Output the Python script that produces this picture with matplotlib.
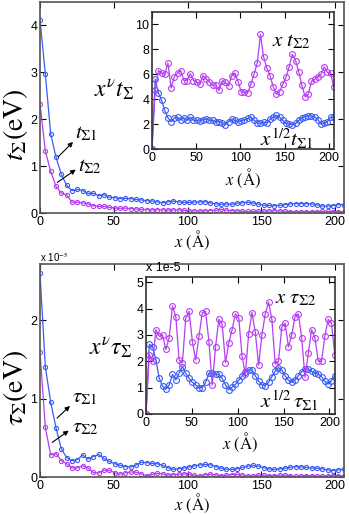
import numpy as np
import matplotlib
matplotlib.use("Agg")
import matplotlib.pyplot as plt

plt.rcParams["mathtext.fontset"] = "stix"
plt.rcParams["font.family"] = ["Liberation Sans", "DejaVu Sans"]

# sampling of the position x (Angstrom), 58 points
x_step = 3.61
x = x_step * np.arange(58)

# main panel (top): t_Sigma in eV
t1 = [4.12, 2.97, 1.69, 1.195, 0.823, 0.593, 0.477, 0.502, 0.479, 0.416,
      0.420, 0.368, 0.391, 0.339, 0.326, 0.308, 0.312, 0.309, 0.288, 0.280,
      0.261, 0.255, 0.238, 0.216, 0.238, 0.255, 0.239, 0.225, 0.226, 0.232,
      0.237, 0.243, 0.216, 0.194, 0.187, 0.193, 0.186, 0.209, 0.220, 0.229,
      0.214, 0.191, 0.168, 0.162, 0.156, 0.162, 0.180, 0.194, 0.199, 0.201,
      0.199, 0.193, 0.173, 0.146, 0.148, 0.157, 0.181, 0.179]
t2 = [2.33, 1.324, 0.887, 0.573, 0.423, 0.389, 0.230, 0.233, 0.215, 0.197,
      0.155, 0.141, 0.142, 0.119, 0.109, 0.098, 0.104, 0.093, 0.085, 0.076,
      0.073, 0.063, 0.070, 0.066, 0.059, 0.066, 0.066, 0.056, 0.046, 0.045,
      0.042, 0.047, 0.053, 0.059, 0.076, 0.060, 0.051, 0.045, 0.037, 0.032,
      0.032, 0.036, 0.039, 0.043, 0.049, 0.044, 0.038, 0.031, 0.025, 0.025,
      0.031, 0.031, 0.031, 0.032, 0.034, 0.031, 0.031, 0.025]

# inset (top): x^(1/2) t_S1 and x t_S2
xt1 = [0, 5.6, 4.5, 3.9, 3.1, 2.5, 2.2, 2.5, 2.55, 2.35,
       2.5, 2.3, 2.55, 2.3, 2.3, 2.25, 2.35, 2.4, 2.3, 2.3,
       2.2, 2.2, 2.1, 1.95, 2.2, 2.4, 2.3, 2.2, 2.25, 2.35,
       2.45, 2.55, 2.3, 2.1, 2.05, 2.15, 2.1, 2.4, 2.55, 2.7,
       2.55, 2.3, 2.05, 2.0, 1.95, 2.05, 2.3, 2.5, 2.6, 2.65,
       2.65, 2.6, 2.35, 2.0, 2.05, 2.2, 2.55, 2.55]
xt2 = [0, 4.7, 6.3, 6.1, 6.0, 6.9, 4.9, 5.8, 6.1, 6.3,
       5.5, 5.5, 6.05, 5.5, 5.4, 5.2, 5.9, 5.6, 5.4, 5.1,
       5.15, 4.7, 5.45, 5.35, 5.05, 5.9, 6.1, 5.4, 4.55, 4.6,
       4.5, 5.2, 6.0, 6.9, 9.2, 7.4, 6.5, 5.9, 5.0, 4.4,
       4.6, 5.2, 5.75, 6.6, 7.6, 7.1, 6.2, 5.1, 4.2, 4.4,
       5.45, 5.6, 5.8, 6.0, 6.6, 6.15, 6.1, 4.97]

# main panel (bottom): tau_Sigma in units of 1e-5 eV
tau1 = [2.6, 1.41, 0.957, 0.628, 0.358, 0.249, 0.206, 0.221, 0.281, 0.230,
        0.260, 0.288, 0.237, 0.199, 0.170, 0.151, 0.133, 0.129, 0.150, 0.189,
        0.184, 0.174, 0.170, 0.149, 0.119, 0.098, 0.106, 0.114, 0.128, 0.143,
        0.155, 0.160, 0.156, 0.134, 0.114, 0.099, 0.096, 0.105, 0.122, 0.138,
        0.148, 0.139, 0.119, 0.104, 0.096, 0.103, 0.113, 0.124, 0.132, 0.129,
        0.122, 0.115, 0.112, 0.104, 0.090, 0.082, 0.090, 0.102]
tau2 = [1.6, 0.634, 0.282, 0.300, 0.208, 0.169, 0.115, 0.117, 0.144, 0.116,
        0.058, 0.050, 0.086, 0.085, 0.055, 0.038, 0.052, 0.064, 0.061, 0.041,
        0.015, 0.034, 0.046, 0.042, 0.023, 0.030, 0.035, 0.040, 0.037, 0.021,
        0.014, 0.028, 0.034, 0.026, 0.015, 0.024, 0.030, 0.032, 0.027, 0.014,
        0.014, 0.023, 0.023, 0.017, 0.019, 0.023, 0.023, 0.017, 0.008, 0.013,
        0.018, 0.016, 0.011, 0.011, 0.015, 0.018, 0.017, 0.011]

# inset (bottom): x^(1/2) tau_S1 and x tau_S2, units of 1e-5
xtau1 = [0, 2.65, 2.55, 2.05, 1.35, 1.05, 0.95, 1.1, 1.5, 1.3,
         1.55, 1.8, 1.55, 1.35, 1.2, 1.1, 1.0, 1.0, 1.2, 1.55,
         1.55, 1.5, 1.5, 1.35, 1.1, 0.92, 1.02, 1.12, 1.28, 1.45,
         1.6, 1.68, 1.66, 1.45, 1.25, 1.1, 1.08, 1.2, 1.42, 1.62,
         1.76, 1.68, 1.45, 1.28, 1.2, 1.3, 1.45, 1.6, 1.72, 1.7,
         1.62, 1.55, 1.52, 1.42, 1.24, 1.14, 1.27, 1.45]
xtau2 = [0, 2.25, 2.0, 3.2, 2.95, 3.0, 2.45, 2.9, 4.1, 3.7,
         2.05, 1.95, 3.65, 3.9, 2.75, 2.05, 2.95, 3.85, 3.9, 2.75,
         1.1, 2.55, 3.6, 3.4, 1.95, 2.7, 3.2, 3.8, 3.65, 2.2,
         1.5, 3.05, 3.85, 3.1, 1.85, 3.0, 3.8, 4.25, 3.6, 1.9,
         2.0, 3.3, 3.45, 2.55, 3.0, 3.7, 3.8, 2.9, 1.4, 2.3,
         3.2, 2.9, 2.0, 2.0, 2.95, 3.6, 3.45, 2.25]

xticks = [0, 50, 100, 150, 200]
blue = "#3b5cf4"
purple = "#b63df0"

W, H = 349, 514
fig = plt.figure(figsize=(W / 100, H / 100), dpi=100)


def box(l, t, r, b):
    return [l / W, 1 - b / H, (r - l) / W, (b - t) / H]


def fp(px, py):
    return (px / W, 1 - py / H)


def style(ax, spine_color):
    ax.tick_params(direction="in", top=True, right=True, length=4,
                   width=0.8, labelsize=9, pad=2)
    for s in ax.spines.values():
        s.set_color(spine_color)
        s.set_linewidth(1.2)


def curves(ax, a, b, ms):
    ax.plot(x, a, "-o", color=blue, mfc="none", ms=ms, mew=0.8, lw=0.9)
    ax.plot(x, b, "-o", color=purple, mfc="none", ms=ms, mew=0.8, lw=0.9)


def xlabel(ax, ypos):
    lab = ax.set_xlabel(r"$x$ (Å)", family="STIXGeneral", fontsize=12)
    lab.set_va("center")
    ax.xaxis.set_label_coords(0.5, ypos)


def ylabel(ax, text):
    lab = ax.set_ylabel(text, family="STIXGeneral", fontsize=20)
    lab.set_va("center")
    ax.yaxis.set_label_coords(-0.08, 0.42)


def arrow(x0, y0, x1, y1):
    fig.add_artist(matplotlib.patches.FancyArrowPatch(
        fp(x0, y0), fp(x1, y1), transform=fig.transFigure,
        arrowstyle="-|>", mutation_scale=7, lw=0.8, color="black"))


big = dict(family="STIXGeneral", fontsize=17, va="center")
mid = dict(family="STIXGeneral", fontsize=15, va="center")

# ---- top main panel ----
ax1 = fig.add_axes(box(40, 2, 344, 213))
curves(ax1, t1, t2, 3)
ax1.set_xlim(0, 206)
ax1.set_ylim(0, 4.5)
ax1.set_xticks(xticks)
ax1.set_yticks([0, 1, 2, 3, 4])
style(ax1, "#555555")
xlabel(ax1, -0.128)
ylabel(ax1, r"$t_{\Sigma}$(eV)")

fig.text(*fp(75, 133), r"$t_{\Sigma 1}$", **mid)
fig.text(*fp(78, 166), r"$t_{\Sigma 2}$", **mid)
arrow(56, 159, 75, 140)
arrow(55, 184, 78, 168)

ins1 = fig.add_axes(box(152, 12, 334, 149))
curves(ins1, xt1, xt2, 4.2)
ins1.set_xlim(0, 206)
ins1.set_ylim(0, 11)
ins1.set_xticks(xticks)
ins1.set_yticks([0, 2, 4, 6, 8, 10])
style(ins1, "#333333")
xlabel(ins1, -0.215)

fig.text(*fp(94, 90), r"$x^{\nu}t_{\Sigma}$", **big)
fig.text(*fp(272, 41), r"$x\ t_{\Sigma 2}$", **mid)
fig.text(*fp(260, 139), r"$x^{1/2}t_{\Sigma 1}$", **mid)

# ---- bottom main panel ----
ax2 = fig.add_axes(box(40, 264, 344, 477))
curves(ax2, tau1, tau2, 3)
ax2.set_xlim(0, 206)
ax2.set_ylim(0, 2.72)
ax2.set_xticks(xticks)
ax2.set_yticks([0, 1, 2])
style(ax2, "#555555")
xlabel(ax2, -0.125)
ylabel(ax2, r"$\tau_{\Sigma}$(eV)")
fig.text(*fp(40, 257), r"x 10$^{-5}$", fontsize=7, va="center")

fig.text(*fp(72, 397), r"$\tau_{\Sigma 1}$", **mid)
fig.text(*fp(72, 427), r"$\tau_{\Sigma 2}$", **mid)
arrow(55, 420, 72, 404)
arrow(50, 444, 71, 429)

ins2 = fig.add_axes(box(146, 277, 335, 414))
curves(ins2, xtau1, xtau2, 4.2)
ins2.set_xlim(0, 206)
ins2.set_ylim(0, 5.2)
ins2.set_xticks(xticks)
ins2.set_yticks([0, 1, 2, 3, 4, 5])
style(ins2, "#333333")
xlabel(ins2, -0.21)
fig.text(*fp(146, 268), "x 1e-5", fontsize=9, va="center")

fig.text(*fp(89, 348), r"$x^{\nu}\tau_{\Sigma}$", **big)
fig.text(*fp(275, 298), r"$x\ \tau_{\Sigma 2}$", **mid)
fig.text(*fp(260, 401), r"$x^{1/2}\,\tau_{\Sigma 1}$", **mid)

fig.savefig("out.png", dpi=100)
